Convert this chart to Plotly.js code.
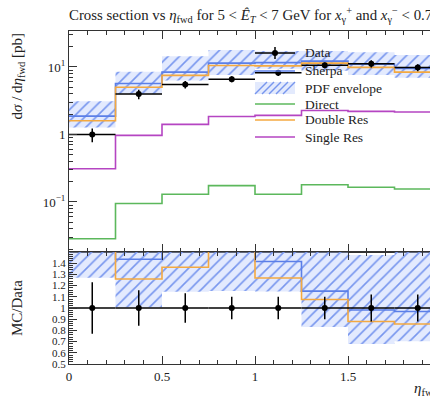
<!DOCTYPE html>
<html>
<head>
<meta charset="utf-8">
<script src="https://cdn.plot.ly/plotly-3.0.1.min.js"></script>
<style>
html, body { margin: 0; padding: 0; overflow: hidden; background: #fff; }
#chart { width: 452px; height: 399px; }
</style>
</head>
<body>
<div id="chart"></div>
<script>
// ---- data ----
const binEdges = [0, 0.25, 0.5, 0.75, 1.0, 1.25, 1.5, 1.75, 2.0];
const dataVals = [1.0, 3.97, 5.5, 6.6, 8.2, 10.6, 11.2, 9.8];
const dataErr  = [0.23, 0.63, 0.72, 0.66, 0.82, 1.06, 1.34, 1.18];
const sherpaVals = [1.87, 5.7, 8.4, 11.4, 11.6, 12.2, 11.0, 9.5];
const pdfUpper   = [3.1, 8.5, 14.4, 17.9, 17.3, 17.3, 16.5, 15.0];
const pdfLower   = [1.27, 4.0, 6.3, 7.6, 9.4, 8.8, 7.6, 6.9];
const directVals = [0.0285, 0.095, 0.13, 0.175, 0.13, 0.18, 0.165, 0.156];
const doubleVals = [1.6, 5.0, 7.5, 10.5, 10.4, 11.4, 9.85, 8.4];
const singleVals = [0.31, 0.97, 1.41, 1.85, 1.92, 2.27, 2.2, 2.15];
const legendLabels = ['Data', 'Sherpa', 'PDF envelope', 'Direct', 'Double Res', 'Single Res'];
const mainTickVals = [0.1, 1, 10];
const mainTickText = ['10<sup>−1</sup>', '1', '10<sup>1</sup>'];
const ratioTickVals = [0.5, 0.6, 0.7, 0.8, 0.9, 1.0, 1.1, 1.2, 1.3, 1.4];
const ratioTickText = ['0.5', '0.6', '0.7', '0.8', '0.9', '1', '1.1', '1.2', '1.3', '1.4'];
const xTickVals = [0, 0.5, 1, 1.5, 2];
const xTickText = ['0', '0.5', '1', '1.5', '2'];

// ---- helpers ----
const centers = dataVals.map((_, i) => (binEdges[i] + binEdges[i + 1]) / 2);
const halfW = dataVals.map((_, i) => (binEdges[i + 1] - binEdges[i]) / 2);
const stepY = v => v.concat([v[v.length - 1]]);
const ratio = v => v.map((x, i) => x / dataVals[i]);

const FONT = 'Liberation Serif, DejaVu Serif, serif';
const cBlue = '#5b7fe8', cOrange = '#f4a940', cGreen = '#5cb85c', cPurple = '#b545c2';
const bandBg = 'rgba(175,195,250,0.35)';
const hatchColor = '#7896ee';
const hatch = {shape: '/', fgcolor: hatchColor, bgcolor: bandBg, size: 8, solidity: 0.2};

function stepTrace(vals, color, name, xa, ya) {
  return {x: binEdges, y: stepY(vals), mode: 'lines', line: {shape: 'hv', color: color, width: 1.6},
          name: name, xaxis: xa, yaxis: ya, showlegend: false, hoverinfo: 'skip'};
}

const traces = [];
// main panel
traces.push({x: binEdges, y: stepY(pdfLower), mode: 'lines', line: {shape: 'hv', width: 0}, showlegend: false,
             xaxis: 'x', yaxis: 'y', hoverinfo: 'skip'});
traces.push({x: binEdges, y: stepY(pdfUpper), mode: 'lines', line: {shape: 'hv', width: 0}, fill: 'tonexty',
             fillcolor: bandBg, fillpattern: hatch, name: legendLabels[2], showlegend: false,
             xaxis: 'x', yaxis: 'y', hoverinfo: 'skip'});
traces.push(stepTrace(sherpaVals, cBlue, legendLabels[1], 'x', 'y'));
traces.push(stepTrace(directVals, cGreen, legendLabels[3], 'x', 'y'));
traces.push(stepTrace(doubleVals, cOrange, legendLabels[4], 'x', 'y'));
traces.push(stepTrace(singleVals, cPurple, legendLabels[5], 'x', 'y'));
traces.push({x: centers, y: dataVals, mode: 'markers', name: legendLabels[0], showlegend: false,
             marker: {color: 'black', size: 6},
             error_y: {type: 'data', array: dataErr, color: 'black', thickness: 1.5, width: 0},
             error_x: {type: 'data', array: halfW, color: 'black', thickness: 1.5, width: 0},
             xaxis: 'x', yaxis: 'y'});
// ratio panel
traces.push({x: binEdges, y: stepY(ratio(pdfLower)), mode: 'lines', line: {shape: 'hv', width: 0}, showlegend: false,
             xaxis: 'x2', yaxis: 'y2', hoverinfo: 'skip'});
traces.push({x: binEdges, y: stepY(ratio(pdfUpper)), mode: 'lines', line: {shape: 'hv', width: 0}, fill: 'tonexty',
             fillcolor: bandBg, fillpattern: hatch, showlegend: false,
             xaxis: 'x2', yaxis: 'y2', hoverinfo: 'skip'});
traces.push(stepTrace(ratio(sherpaVals), cBlue, 'Sherpa', 'x2', 'y2'));
traces.push(stepTrace(ratio(doubleVals), cOrange, 'Double Res', 'x2', 'y2'));
traces.push({x: centers, y: dataVals.map(() => 1), mode: 'markers', showlegend: false,
             marker: {color: 'black', size: 6},
             error_y: {type: 'data', array: ratio(dataErr), color: 'black', thickness: 1.5, width: 0},
             error_x: {type: 'data', array: halfW, color: 'black', thickness: 1.5, width: 0},
             xaxis: 'x2', yaxis: 'y2'});

const W = 452, H = 399;
const ml = 69, mr = 11, mt = 31, mb = 35;
const split = 0.3363;
const px = x => (x - ml) / (W - ml - mr);     // pixel -> paper x
const py = y => (H - mb - y) / (H - mt - mb); // pixel -> paper y

// ---- hand-drawn legend (Rivet style) ----
const legRows = [53, 71, 88, 104, 120, 137];
const legX0 = 255, legX1 = 295, legTextX = 303;
const shapes = [];
const annotations = [];
function hline(y, color, w) {
  shapes.push({type: 'line', xref: 'paper', yref: 'paper', x0: px(legX0), x1: px(legX1), y0: py(y), y1: py(y),
               line: {color: color, width: w}});
}
// Data: line + vertical bar + dot
hline(legRows[0], 'black', 1.5);
shapes.push({type: 'line', xref: 'paper', yref: 'paper', x0: px(275), x1: px(275), y0: py(legRows[0] - 6), y1: py(legRows[0] + 6),
             line: {color: 'black', width: 1.5}});
shapes.push({type: 'circle', xref: 'paper', yref: 'paper', x0: px(272), x1: px(278), y0: py(legRows[0] + 3), y1: py(legRows[0] - 3),
             fillcolor: 'black', line: {color: 'black', width: 0}});
// Sherpa
hline(legRows[1], cBlue, 1.6);
// PDF envelope: light box with hatching
const by0 = legRows[2] - 6, by1 = legRows[2] + 6;
shapes.push({type: 'rect', xref: 'paper', yref: 'paper', x0: px(legX0), x1: px(legX1), y0: py(by1), y1: py(by0),
             fillcolor: bandBg, line: {width: 0}});
for (let hx = legX0; hx + 12 <= legX1; hx += 7) {
  shapes.push({type: 'line', xref: 'paper', yref: 'paper', x0: px(hx), x1: px(hx + 12), y0: py(by1), y1: py(by0),
               line: {color: hatchColor, width: 1.4}});
}
hline(legRows[3], cGreen, 1.6);
hline(legRows[4], cOrange, 1.6);
hline(legRows[5], cPurple, 1.6);
legendLabels.forEach((t, i) => annotations.push({text: t, xref: 'paper', yref: 'paper', x: px(legTextX), y: py(legRows[i]),
  xanchor: 'left', yanchor: 'middle', showarrow: false, font: {family: FONT, size: 13.5, color: '#222'}}));

const axisCommon = {showline: true, linecolor: '#333', linewidth: 1, mirror: 'allticks', ticks: 'inside',
                    tickcolor: '#333', showgrid: false, zeroline: false, tickfont: {family: FONT, size: 13, color: '#222'}};

annotations.push(
  {text: 'd<i>σ</i> / d<i>η</i><sub>fwd</sub> [pb]', xref: 'paper', yref: 'paper', x: px(17), y: 1,
   xanchor: 'center', yanchor: 'top', textangle: -90, showarrow: false, font: {family: FONT, size: 15, color: '#222'}},
  {text: 'MC/Data', xref: 'paper', yref: 'paper', x: px(17), y: py(308),
   xanchor: 'center', yanchor: 'middle', textangle: -90, showarrow: false, font: {family: FONT, size: 15, color: '#222'}},
  {text: '<i>η</i><sub>fwd</sub>', xref: 'paper', yref: 'paper', x: 1, y: py(389),
   xanchor: 'right', yanchor: 'middle', showarrow: false, font: {family: FONT, size: 15, color: '#222'}}
);

const layout = {
  width: W, height: H,
  margin: {l: ml, r: mr, t: mt, b: mb},
  paper_bgcolor: 'white', plot_bgcolor: 'white',
  font: {family: FONT, color: '#222'},
  title: {text: 'Cross section vs <i>η</i><sub>fwd</sub> for 5 &lt; <i>Ê<sub>T</sub></i> &lt; 7 GeV for <i>x</i><sub>γ</sub><sup>+</sup> and <i>x</i><sub>γ</sub><sup>−</sup> &lt; 0.75',
          x: ml / W, xanchor: 'left', xref: 'container', y: 1 - 15 / H, yanchor: 'middle', yref: 'container',
          font: {family: FONT, size: 14.85, color: '#222'}},
  showlegend: false,
  xaxis: Object.assign({}, axisCommon, {domain: [0, 1], anchor: 'y', range: [0, 2], tickmode: 'array', tickvals: xTickVals,
           showticklabels: false, ticklen: 8,
           minor: {dtick: 0.1, tick0: 0, ticks: 'inside', ticklen: 4, tickcolor: '#333', showgrid: false}}),
  yaxis: Object.assign({}, axisCommon, {domain: [split, 1], anchor: 'x', type: 'log', range: [-1.741, 1.533],
           tickmode: 'array', tickvals: mainTickVals, ticktext: mainTickText, ticklen: 8,
           minor: {tickvals: [0.02,0.03,0.04,0.05,0.06,0.07,0.08,0.09,0.2,0.3,0.4,0.5,0.6,0.7,0.8,0.9,2,3,4,5,6,7,8,9,20,30],
                   ticks: 'inside', ticklen: 4, tickcolor: '#333', showgrid: false}}),
  xaxis2: Object.assign({}, axisCommon, {domain: [0, 1], anchor: 'y2', range: [0, 2], tickmode: 'array', tickvals: xTickVals,
           ticktext: xTickText, ticklen: 8,
           minor: {dtick: 0.1, tick0: 0, ticks: 'inside', ticklen: 4, tickcolor: '#333', showgrid: false}}),
  yaxis2: Object.assign({}, axisCommon, {domain: [0, split], anchor: 'x2', range: [0.5, 1.5], tickmode: 'array',
           tickvals: ratioTickVals, ticktext: ratioTickText, ticklen: 8, tickfont: {family: FONT, size: 11, color: '#222'},
           minor: {dtick: 0.02, tick0: 0.5, ticks: 'inside', ticklen: 4, tickcolor: '#333', showgrid: false}}),
  shapes: shapes,
  annotations: annotations
};

Plotly.newPlot('chart', traces, layout, {displayModeBar: false, staticPlot: true});
</script>
</body>
</html>
